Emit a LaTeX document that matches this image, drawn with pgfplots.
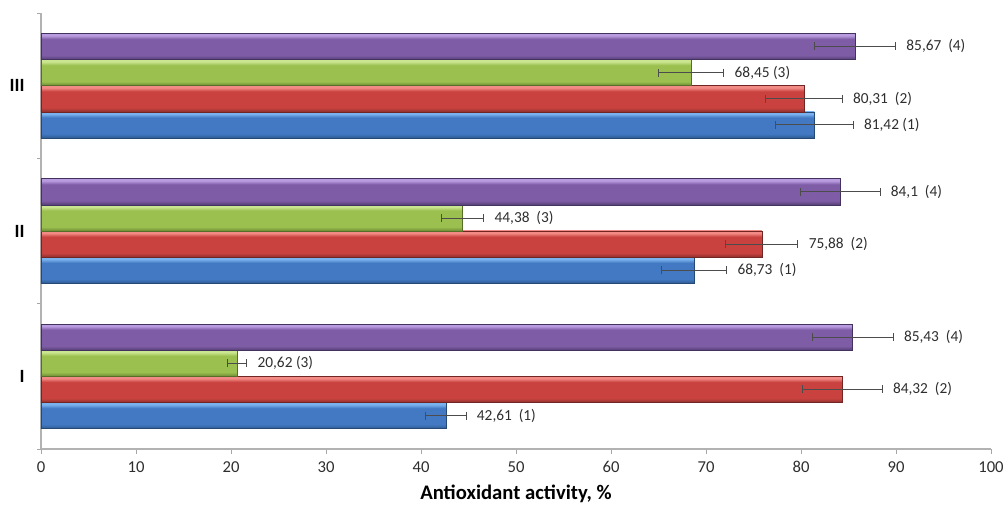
\documentclass[border=0pt]{standalone}
\usepackage{fontspec}
\setmainfont{Carlito}
\usepackage{pgfplots}
\pgfplotsset{compat=1.18}
\definecolor{bbot}{HTML}{2E5A91}\definecolor{bmid}{HTML}{4279C2}\definecolor{btop}{HTML}{79B2EE}
\definecolor{rbot}{HTML}{8E302D}\definecolor{rmid}{HTML}{C9423F}\definecolor{rtop}{HTML}{F28A86}
\definecolor{gbot}{HTML}{6D8A33}\definecolor{gmid}{HTML}{9BC04F}\definecolor{gtop}{HTML}{CBE690}
\definecolor{pbot}{HTML}{553F75}\definecolor{pmid}{HTML}{7E5CA6}\definecolor{ptop}{HTML}{B99CE0}
\pgfdeclareverticalshading{bsh}{100bp}{color(0bp)=(bbot); color(25bp)=(bbot); color(33bp)=(bmid); color(64bp)=(bmid); color(71bp)=(btop); color(75bp)=(btop); color(100bp)=(btop)}
\pgfdeclareverticalshading{rsh}{100bp}{color(0bp)=(rbot); color(25bp)=(rbot); color(33bp)=(rmid); color(64bp)=(rmid); color(71bp)=(rtop); color(75bp)=(rtop); color(100bp)=(rtop)}
\pgfdeclareverticalshading{gsh}{100bp}{color(0bp)=(gbot); color(25bp)=(gbot); color(33bp)=(gmid); color(64bp)=(gmid); color(71bp)=(gtop); color(75bp)=(gtop); color(100bp)=(gtop)}
\pgfdeclareverticalshading{psh}{100bp}{color(0bp)=(pbot); color(25bp)=(pbot); color(33bp)=(pmid); color(64bp)=(pmid); color(71bp)=(ptop); color(75bp)=(ptop); color(100bp)=(ptop)}
\definecolor{txt}{HTML}{2E2E2E}
\pgfplotsset{
  bluebar/.style={xbar, bar shift=-0.27, shading=bsh, draw=bbot!80!black, line width=0.3pt},
  redbar/.style={xbar, bar shift=-0.09, shading=rsh, draw=rbot!80!black, line width=0.3pt},
  greenbar/.style={xbar, bar shift=0.09, shading=gsh, draw=gbot!80!black, line width=0.3pt},
  purplebar/.style={xbar, bar shift=0.27, shading=psh, draw=pbot!80!black, line width=0.3pt},
}
\begin{document}
\begin{tikzpicture}
\path[use as bounding box] (-30.75pt,-45pt) rectangle (721.5pt,336.75pt);
\begin{axis}[
  scale only axis, width=712.5pt, height=327pt,
  at={(0,0)}, anchor=south west,
  xmin=0, xmax=100, ymin=0.5, ymax=3.5,
  axis x line*=bottom, axis y line*=left,
  axis line style={draw=black!30, line width=0.8pt},
  xtick={0,10,...,100}, tick align=outside, tick pos=left,
  major tick length=3.75pt,
  x tick style={draw=black!35, line width=0.6pt},
  ytick={1,2,3}, yticklabels={I,II,III},
  major y tick style={draw=none},
  minor ytick={0.5,1.5,2.5,3.5}, minor tick length=3pt,
  minor y tick style={draw=black!35, line width=0.6pt},
  /pgf/number format/assume math mode=true,
  xticklabel style={font=\fontsize{12.5}{14}\selectfont, text=txt, yshift=-2pt},
  yticklabel style={font=\fontsize{14}{16}\selectfont\bfseries, text=black, xshift=-5pt},
  xlabel={Antioxidant activity, \%},
  xlabel style={font=\fontsize{15.5}{17}\selectfont\bfseries, yshift=-2.5pt},
  bar width=0.18,
  clip=false,
  error bars/error bar style={draw=black!70, line width=0.6pt},
  error bars/error mark options={draw=black!70, line width=0.6pt, mark size=3pt, rotate=90},
  nodes near coords align={anchor=west},
]
% bars (one plot per bar so that each bar gets its own shading)
\addplot[bluebar] coordinates {(42.61,1)};
\addplot[bluebar] coordinates {(68.73,2)};
\addplot[bluebar] coordinates {(81.42,3)};
\addplot[redbar] coordinates {(84.32,1)};
\addplot[redbar] coordinates {(75.88,2)};
\addplot[redbar] coordinates {(80.31,3)};
\addplot[greenbar] coordinates {(20.62,1)};
\addplot[greenbar] coordinates {(44.38,2)};
\addplot[greenbar] coordinates {(68.45,3)};
\addplot[purplebar] coordinates {(85.43,1)};
\addplot[purplebar] coordinates {(84.10,2)};
\addplot[purplebar] coordinates {(85.67,3)};
% error bars
\addplot[draw=none, mark=none, error bars/.cd, x dir=both, x explicit]
  coordinates {(42.61,0.73) +- (2.13,0) (68.73,1.73) +- (3.44,0) (81.42,2.73) +- (4.07,0)
               (84.32,0.91) +- (4.22,0) (75.88,1.91) +- (3.79,0) (80.31,2.91) +- (4.02,0)
               (20.62,1.09) +- (1.03,0) (44.38,2.09) +- (2.22,0) (68.45,3.09) +- (3.42,0)
               (85.43,1.27) +- (4.27,0) (84.10,2.27) +- (4.21,0) (85.67,3.27) +- (4.28,0)};
% value labels
\addplot[draw=none, mark=none, nodes near coords, point meta=explicit symbolic,
  every node near coord/.append style={font=\fontsize{11.5}{13}\selectfont, text=txt, xshift=7pt, inner sep=1pt}]
  coordinates {(44.74,0.73) [{42,61~~(1)}] (72.17,1.73) [{68,73~~(1)}] (85.49,2.73) [{81,42~(1)}]
               (88.54,0.91) [{84,32~~(2)}] (79.67,1.91) [{75,88~~(2)}] (84.33,2.91) [{80,31~~(2)}]
               (21.65,1.09) [{20,62~(3)}] (46.60,2.09) [{44,38~~(3)}] (71.87,3.09) [{68,45~(3)}]
               (89.70,1.27) [{85,43~~(4)}] (88.31,2.27) [{84,1~~(4)}] (89.95,3.27) [{85,67~~(4)}]};
\end{axis}
\end{tikzpicture}
\end{document}
